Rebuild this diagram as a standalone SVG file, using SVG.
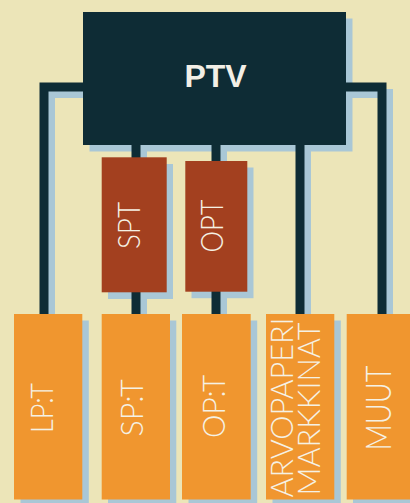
<svg xmlns="http://www.w3.org/2000/svg" width="410" height="503" viewBox="0 0 410 503">
<style>
.bg{fill:#ece5b8}
.sh{fill:#a9c7d6}
.shl{fill:none;stroke:#a9c7d6;stroke-width:9;stroke-linejoin:miter}
.ln{fill:none;stroke:#0e2c35;stroke-width:9;stroke-linejoin:miter}
.dark{fill:#0e2c35}
.brown{fill:#a3401f}
.orange{fill:#f0962f}
.t{fill:#f5f1e4;font-family:Lato,"Liberation Sans",sans-serif;font-weight:300;text-anchor:middle}
.tb{fill:#f2efe6;font-family:"Liberation Sans",Arial,sans-serif;font-weight:bold;font-size:32px;text-anchor:middle}
</style>
<rect class="bg" x="0" y="0" width="410" height="503"/>
<g id="shadows">
<rect class="sh" x="89.5" y="18.5" width="263" height="133"/>
<path class="shl" d="M90 93.5 H50.5 V320 M340 93.5 H388.5 V320 M142.5 150 V320 M222.5 150 V320 M306.5 150 V320"/>
<rect class="sh" x="108" y="164" width="65" height="135"/>
<rect class="sh" x="191.5" y="167.5" width="62" height="130.7"/>
<rect class="sh" x="20.5" y="320.5" width="68.3" height="190"/>
<rect class="sh" x="108" y="320.5" width="68.3" height="190"/>
<rect class="sh" x="188.5" y="320.5" width="68.7" height="190"/>
<rect class="sh" x="272.5" y="320.5" width="68.3" height="190"/>
<rect class="sh" x="353" y="320.5" width="64" height="190"/>
</g>
<g id="connectors">
<path class="ln" d="M90 87 H44 V315 M340 87 H382 V315 M136 140 V315 M216 140 V315 M300 140 V315"/>
</g>
<g id="ptv">
<rect class="dark" x="83" y="12" width="263" height="133"/>
<text class="tb" x="215.5" y="86.5">PTV</text>
</g>
<g id="spt">
<rect class="brown" x="101.7" y="157.3" width="65" height="135"/>
<text class="t" font-size="31" textLength="47" lengthAdjust="spacingAndGlyphs" transform="translate(140,225.5) rotate(-90)">SPT</text>
</g>
<g id="opt">
<rect class="brown" x="185.3" y="161" width="62" height="130.7"/>
<text class="t" font-size="31" textLength="53" lengthAdjust="spacingAndGlyphs" transform="translate(223,226) rotate(-90)">OPT</text>
</g>
<g id="lpt">
<rect class="orange" x="14" y="314" width="68.3" height="185.5"/>
<text class="t" font-size="31" textLength="50" lengthAdjust="spacingAndGlyphs" transform="translate(53,408) rotate(-90)">LP:T</text>
</g>
<g id="spt2">
<rect class="orange" x="101.7" y="314" width="68.3" height="185.5"/>
<text class="t" font-size="31" textLength="57" lengthAdjust="spacingAndGlyphs" transform="translate(143,408) rotate(-90)">SP:T</text>
</g>
<g id="opt2">
<rect class="orange" x="182" y="314" width="68.7" height="185.5"/>
<text class="t" font-size="31" textLength="63" lengthAdjust="spacingAndGlyphs" transform="translate(225,406.5) rotate(-90)">OP:T</text>
</g>
<g id="arvopaperimarkkinat">
<rect class="orange" x="266" y="314" width="68.3" height="185.5"/>
<text class="t" font-size="32" textLength="180" lengthAdjust="spacingAndGlyphs" transform="translate(293,407.5) rotate(-90)">ARVOPAPERI</text>
<text class="t" font-size="32" textLength="173" lengthAdjust="spacingAndGlyphs" transform="translate(320,409) rotate(-90)">MARKKINAT</text>
</g>
<g id="muut">
<rect class="orange" x="346.7" y="314" width="64" height="185.5"/>
<text class="t" font-size="36" textLength="85" lengthAdjust="spacingAndGlyphs" transform="translate(391,408) rotate(-90)">MUUT</text>
</g>
</svg>
